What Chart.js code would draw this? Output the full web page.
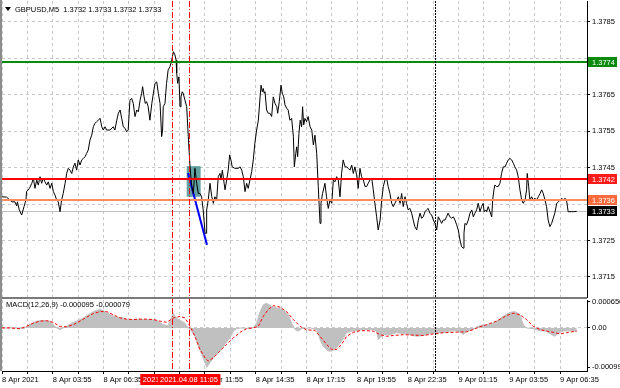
<!DOCTYPE html>
<html>
<head>
<meta charset="utf-8">
<script src="https://cdn.jsdelivr.net/npm/chart.js@4.4.1/dist/chart.umd.min.js"></script>
<style>
  html, body { margin: 0; padding: 0; background: #fff; }
  #wrap { position: relative; width: 620px; height: 388px; overflow: hidden; }
  #mainChart { position: absolute; left: 0; top: 0; }
  #macdChart { position: absolute; left: 0; top: 297px; }
</style>
</head>
<body>
<div id="wrap">
  <canvas id="mainChart" width="620" height="298"></canvas>
  <canvas id="macdChart" width="620" height="91"></canvas>
</div>
<script>
// GBPUSD M5, bar index 0 = 8 Apr 01:15
const chartTitle = "GBPUSD,M5  1.3732 1.3733 1.3732 1.3733";
const macdTitle = "MACD(12,26,9) -0.000095 -0.000079";

const timeLabels = ['8 Apr 2021', '8 Apr 03:55', '8 Apr 06:35', '8 Apr 09:15', '8 Apr 11:55', '8 Apr 14:35',
    '8 Apr 17:15', '8 Apr 19:55', '8 Apr 22:35', '9 Apr 01:15', '9 Apr 03:55', '9 Apr 06:35'];
const barsPerLabel = 32;
const barsPerGrid = 16;
const lastBar = 369;

const priceTicks = [1.3715, 1.3725, 1.3735, 1.3745, 1.3755, 1.3765, 1.3775, 1.3785];
// labels under the price boxes are not shown
const priceTickLabels = ['1.3715', '1.3725', '', '1.3745', '1.3755', '1.3765', '', '1.3785'];
const priceMin = 1.37095;
const priceMax = 1.37907;

// [bar, close]
const priceLine = [
    [0,1.37370],[2.9,1.37369],[6.2,1.37356],[8.2,1.37356],[9.3,1.37345],[9.7,1.37356],[10.9,1.37334],[12.4,1.37320],
    [13.9,1.37343],[15.1,1.37361],[15.5,1.37384],[17.3,1.37393],[18.8,1.37407],[19.8,1.37421],[20.8,1.37393],[21.9,1.37416],
    [22.9,1.37402],[24.0,1.37425],[25.0,1.37407],[26.0,1.37421],[27.1,1.37411],[28.2,1.37402],[29.2,1.37411],[30.3,1.37393],
    [31.4,1.37407],[32.4,1.37384],[33.4,1.37375],[34.5,1.37361],[35.5,1.37356],[36.6,1.37329],[37.6,1.37361],[38.6,1.37379],
    [39.8,1.37407],[40.8,1.37434],[41.8,1.37448],[42.9,1.37443],[44.0,1.37434],[45.0,1.37452],[46.0,1.37462],[47.1,1.37443],
    [48.1,1.37471],[49.2,1.37457],[50.3,1.37471],[51.3,1.37475],[52.4,1.37480],[53.4,1.37489],[54.4,1.37498],[55.5,1.37526],
    [56.6,1.37539],[57.6,1.37562],[58.6,1.37571],[59.7,1.37576],[60.7,1.37580],[61.9,1.37585],[62.9,1.37562],[63.9,1.37553],
    [65.0,1.37562],[66.0,1.37553],[68.1,1.37553],[70.2,1.37562],[71.2,1.37553],[72.4,1.37580],[73.4,1.37599],[74.5,1.37608],
    [75.5,1.37585],[76.5,1.37562],[77.6,1.37558],[78.6,1.37548],[79.6,1.37553],[80.7,1.37635],[81.8,1.37640],[82.8,1.37626],
    [83.9,1.37590],[85.0,1.37608],[86.0,1.37603],[87.1,1.37635],[88.1,1.37654],[88.7,1.37672],[89.6,1.37644],[90.4,1.37626],
    [91.2,1.37631],[92.2,1.37617],[93.3,1.37580],[94.5,1.37626],[95.5,1.37654],[96.5,1.37681],[97.6,1.37685],[98.6,1.37654],
    [99.7,1.37626],[100.7,1.37535],[101.3,1.37553],[101.7,1.37617],[102.8,1.37626],[103.8,1.37681],[104.8,1.37718],[106.0,1.37727],
    [107.1,1.37745],[108.1,1.37768],[109.1,1.37759],[109.8,1.37745],[110.2,1.37709],[110.8,1.37681],[111.6,1.37699],[112.3,1.37617],
    [112.9,1.37644],[113.7,1.37658],[114.3,1.37654],[115.4,1.37635],[116.5,1.37617],[117.5,1.37535],[118.6,1.37452],[119.7,1.37398],
    [120.7,1.37379],[121.7,1.37448],[122.8,1.37407],[123.8,1.37379],[124.9,1.37379],[125.9,1.37370],[126.9,1.37334],[128.1,1.37270],
    [128.7,1.37270],[129.1,1.37334],[130.1,1.37361],[131.2,1.37407],[132.3,1.37370],[132.9,1.37361],[133.3,1.37352],[134.3,1.37370],
    [135.4,1.37361],[136.4,1.37425],[137.5,1.37434],[138.1,1.37416],[139.0,1.37443],[140.1,1.37407],[140.7,1.37389],[141.7,1.37416],
    [142.7,1.37443],[143.6,1.37485],[144.4,1.37471],[145.2,1.37452],[146.9,1.37448],[149.0,1.37448],[150.2,1.37452],[151.2,1.37443],
    [152.2,1.37425],[153.3,1.37384],[154.3,1.37407],[155.3,1.37393],[156.4,1.37416],[157.5,1.37439],[158.5,1.37471],[159.5,1.37517],
    [160.6,1.37553],[161.7,1.37580],[162.8,1.37644],[163.4,1.37676],[164.2,1.37658],[164.8,1.37667],[165.4,1.37654],[165.9,1.37658],
    [166.9,1.37608],[167.9,1.37599],[169.0,1.37599],[170.1,1.37590],[171.1,1.37644],[172.2,1.37626],[173.3,1.37617],[173.9,1.37599],
    [174.9,1.37631],[176.0,1.37676],[176.8,1.37654],[177.7,1.37644],[178.5,1.37622],[179.5,1.37613],[180.5,1.37608],[181.6,1.37580],
    [182.7,1.37585],[183.8,1.37535],[184.4,1.37452],[185.3,1.37489],[185.9,1.37507],[186.5,1.37480],[187.3,1.37544],[188.1,1.37580],
    [189.0,1.37562],[189.6,1.37617],[190.3,1.37567],[191.1,1.37585],[192.1,1.37576],[193.1,1.37590],[194.3,1.37562],[195.4,1.37553],
    [196.4,1.37512],[197.4,1.37539],[198.5,1.37489],[199.5,1.37398],[200.6,1.37297],[201.2,1.37352],[202.2,1.37379],[203.7,1.37407],
    [204.7,1.37370],[205.8,1.37338],[206.9,1.37361],[208.0,1.37352],[209.0,1.37416],[210.0,1.37411],[211.1,1.37425],[212.1,1.37416],
    [213.2,1.37370],[214.2,1.37434],[215.2,1.37471],[216.4,1.37452],[217.4,1.37452],[218.4,1.37448],[219.5,1.37443],[220.6,1.37457],
    [221.6,1.37434],[222.6,1.37452],[223.7,1.37430],[224.7,1.37393],[225.8,1.37448],[226.8,1.37425],[227.9,1.37416],[229.0,1.37398],
    [230.0,1.37398],[231.0,1.37407],[232.1,1.37416],[233.2,1.37421],[234.2,1.37389],[235.2,1.37352],[236.3,1.37315],[237.3,1.37279],
    [238.5,1.37306],[239.5,1.37361],[240.5,1.37398],[241.6,1.37416],[242.6,1.37421],[243.6,1.37398],[244.7,1.37379],[245.8,1.37352],
    [246.8,1.37343],[247.8,1.37352],[248.9,1.37361],[250.0,1.37370],[251.1,1.37352],[252.1,1.37379],[253.1,1.37343],[254.2,1.37370],
    [255.2,1.37352],[256.2,1.37334],[257.3,1.37338],[258.4,1.37325],[259.4,1.37306],[260.4,1.37288],[261.6,1.37279],[262.6,1.37306],
    [263.7,1.37325],[264.7,1.37311],[265.7,1.37315],[266.8,1.37329],[267.8,1.37334],[268.8,1.37338],[269.9,1.37325],[271.0,1.37320],
    [272.1,1.37306],[273.1,1.37297],[274.2,1.37279],[275.2,1.37315],[276.3,1.37306],[277.3,1.37297],[278.3,1.37306],[279.4,1.37306],
    [280.4,1.37315],[281.4,1.37325],[282.5,1.37315],[283.7,1.37311],[284.7,1.37315],[285.7,1.37306],[286.8,1.37293],[287.8,1.37279],
    [288.9,1.37251],[289.9,1.37233],[290.9,1.37229],[291.4,1.37270],[292.0,1.37297],[293.0,1.37293],[294.1,1.37306],[295.2,1.37325],
    [296.3,1.37334],[297.3,1.37315],[298.3,1.37325],[299.4,1.37334],[300.4,1.37352],[301.5,1.37329],[302.5,1.37343],[303.5,1.37352],
    [304.1,1.37329],[305.1,1.37334],[305.7,1.37329],[306.7,1.37343],[307.8,1.37329],[308.9,1.37315],[309.5,1.37361],[310.3,1.37389],
    [310.9,1.37402],[312.0,1.37398],[313.0,1.37398],[314.1,1.37407],[315.1,1.37434],[316.2,1.37452],[317.3,1.37452],[318.3,1.37462],
    [319.3,1.37471],[320.4,1.37475],[321.5,1.37471],[322.5,1.37462],[323.5,1.37452],[324.6,1.37443],[325.6,1.37425],[326.7,1.37389],
    [327.8,1.37361],[328.8,1.37352],[329.9,1.37361],[330.9,1.37389],[331.3,1.37434],[332.2,1.37398],[333.0,1.37361],[334.1,1.37370],
    [335.1,1.37361],[336.1,1.37366],[337.2,1.37361],[338.3,1.37370],[339.4,1.37379],[340.4,1.37389],[341.4,1.37379],[342.5,1.37361],
    [343.5,1.37343],[344.5,1.37306],[345.6,1.37288],[346.7,1.37297],[347.7,1.37311],[348.7,1.37325],[349.9,1.37352],[350.9,1.37356],
    [352.0,1.37361],[353.0,1.37366],[354.0,1.37361],[355.1,1.37366],[356.1,1.37361],[357.1,1.37329],[359.3,1.37329],[360.3,1.37329],
    [362.5,1.37330]
];

// horizontal levels: take profit, entry, stop, bid
const levelPrices = [1.3774, 1.3742, 1.3736];
const levelLabels = ['1.3774', '1.3742', '1.3736'];
const bidPrice = 1.3733;
const bidLabel = '1.3733';

// signal bars (red) and day separator (black)
const markerBars = [107, 118];
const markerLabels = ['2021.04.08 10:10', '2021.04.08 11:05'];
const daySeparatorBar = 273;

// rectangle and trend line drawn on the chart
const zoneBars = [116.5, 125.3];
const zonePrices = [1.37454, 1.37370];
const trendBars = [117.3, 129.3];
const trendPrices = [1.37435, 1.37238];

// MACD histogram [bar, value]
const macdHist = [
    [0,0],[11.4,0],[13.4,-0.00002],[15.5,0.00002],[18.7,0.00012],[21.9,0.00017],[26.0,0.00019],[30.3,0.00017],
    [32.4,0.00008],[34.5,0],[36.6,-0.00004],[38.6,0],[40.8,0.00004],[43.9,0.00012],[47.1,0.00017],[51.3,0.00025],
    [54.4,0.00033],[57.6,0.00041],[61.9,0.00047],[65.0,0.00041],[68.1,0.00033],[72.4,0.00027],[76.5,0.00025],[80.7,0.00019],
    [85.0,0.00022],[89.1,0.00021],[93.3,0.00021],[97.6,0.00019],[101.7,0.00008],[104.8,0.00006],[106.4,0.00021],[108.1,0.00037],
    [109.1,0.00029],[111.2,0.00021],[113.3,0.00017],[115.4,0.00012],[117.5,0],[119.7,-0.00008],[121.7,-0.00021],[123.8,-0.00046],
    [125.9,-0.00066],[128.1,-0.00087],[129.1,-0.00099],[131.2,-0.00087],[134.3,-0.00070],[137.5,-0.00058],[140.7,-0.00041],[143.8,-0.00025],
    [145.9,-0.00008],[148.0,-0.00002],[150.2,0],[154.3,-0.00001],[158.5,0.00001],[160.6,0.00012],[162.8,0.00041],[164.8,0.00058],
    [166.9,0.00062],[170.1,0.00054],[173.3,0.00050],[177.4,0.00046],[180.5,0.00033],[182.7,0.00012],[184.8,-0.00004],[186.9,-0.00008],
    [189.0,-0.00002],[194.3,0],[198.5,-0.00004],[200.6,-0.00029],[202.6,-0.00046],[205.8,-0.00058],[208.0,-0.00058],[211.1,-0.00050],
    [214.2,-0.00033],[217.4,-0.00012],[220.6,-0.00008],[223.7,-0.00007],[227.9,-0.00004],[234.2,-0.00004],[236.3,-0.00008],[237.3,-0.00029],
    [239.5,-0.00021],[240.5,-0.00017],[244.7,-0.00017],[248.9,-0.00012],[253.1,-0.00014],[257.3,-0.00017],[261.6,-0.00021],[265.7,-0.00019],
    [269.9,-0.00014],[274.2,-0.00012],[278.3,-0.00012],[282.5,-0.00008],[286.8,-0.00007],[289.9,-0.00012],[290.9,-0.00017],[293.0,-0.00008],
    [297.3,-0.00004],[299.4,0.00003],[303.5,0.00008],[307.8,0.00008],[312.0,0.00017],[316.2,0.00029],[320.4,0.00039],[323.5,0.00041],
    [326.7,0.00033],[328.8,0.00008],[330.9,0],[335.1,-0.00002],[339.4,-0.00007],[343.5,-0.00008],[346.7,-0.00017],[348.7,-0.00021],
    [350.9,-0.00012],[354.0,-0.00008],[358.2,-0.00007],[362.5,-0.000095]
];

// MACD signal line [bar, value]
const macdSignal = [
    [0,0],[5.0,0],[11.4,-0.00002],[15.5,0.00004],[19.8,0.00012],[24.0,0.00017],[28.2,0.00018],[32.4,0.00014],
    [36.6,0.00003],[40.8,0.00003],[45.0,0.00008],[49.2,0.00017],[53.4,0.00027],[57.6,0.00036],[61.9,0.00041],[66.0,0.00041],
    [70.2,0.00033],[74.5,0.00025],[78.6,0.00022],[82.8,0.00021],[87.1,0.00022],[91.2,0.00022],[95.5,0.00021],[99.7,0.00017],
    [103.8,0.00014],[108.1,0.00025],[112.3,0.00029],[115.4,0.00025],[117.5,0.00012],[120.7,-0.00012],[124.9,-0.00054],[128.1,-0.00075],
    [130.1,-0.00083],[133.3,-0.00075],[137.5,-0.00058],[141.7,-0.00041],[145.9,-0.00025],[150.2,-0.00011],[154.3,-0.00002],[158.5,0],
    [161.7,0.00004],[164.8,0.00029],[167.9,0.00046],[171.1,0.00056],[175.4,0.00052],[179.5,0.00041],[183.8,0.00021],[188.0,0.00004],
    [192.1,-0.00005],[197.4,-0.00006],[200.6,-0.00021],[204.7,-0.00041],[208.0,-0.00054],[211.1,-0.00054],[214.2,-0.00041],[217.4,-0.00021],
    [221.6,-0.00011],[225.8,-0.00007],[230.0,-0.00007],[234.2,-0.00008],[238.5,-0.00017],[242.6,-0.00021],[246.8,-0.00019],[253.1,-0.00017],
    [259.4,-0.00018],[265.7,-0.00019],[272.1,-0.00015],[278.3,-0.00012],[284.7,-0.00011],[288.9,-0.00010],[293.0,-0.00010],[297.3,-0.00004],
    [301.5,0.00003],[305.7,0.00008],[312.0,0.00017],[318.3,0.00031],[322.5,0.00037],[326.7,0.00033],[330.9,0.00021],[335.1,0.00004],
    [339.4,-0.00004],[343.5,-0.00008],[347.7,-0.00011],[352.0,-0.00015],[356.1,-0.00012],[362.5,-0.000079]
];

const macdTicks = [0.000656, 0, -0.00099];
const macdTickLabels = ['0.000656', '0.00', '-0.00099'];
const macdMin = -0.00108;
const macdMax = 0.0007;

// --- styles ---
const fontFamily = '"Liberation Sans", Arial, sans-serif';
const fontSize = 7.5;
const smallFont = fontSize + 'px ' + fontFamily;
const gridColor = '#c8c8c8';
const gridDash = [3, 3];
const levelColors = ['#0a8a0a', '#ff0000', '#ff8a5c'];
const levelBoxColors = ['#0a8a0a', '#ff1a1a', '#ff6a3c'];
const markerDash = [6, 2, 1, 2];

const gridBars = [];
for (let b = 0; b <= (timeLabels.length - 1) * barsPerLabel; b += barsPerGrid) gridBars.push(b);

const toPoints = arr => arr.map(p => ({ x: p[0], y: p[1] }));

// no label overflow padding, so the plot fills the panel
const noPadding = s => { s.paddingTop = 0; s.paddingBottom = 0; s.paddingLeft = 0; s.paddingRight = 0; };

function hLine(ctx, area, y, color, width) {
    ctx.save();
    ctx.strokeStyle = color;
    ctx.lineWidth = width;
    ctx.beginPath();
    ctx.moveTo(area.left, y);
    ctx.lineTo(area.right, y);
    ctx.stroke();
    ctx.restore();
}

function vLine(ctx, x, top, bottom, color, dash) {
    ctx.save();
    ctx.strokeStyle = color;
    ctx.lineWidth = 1;
    ctx.setLineDash(dash);
    ctx.beginPath();
    ctx.moveTo(x, top);
    ctx.lineTo(x, bottom);
    ctx.stroke();
    ctx.restore();
}

function priceBox(ctx, area, y, bg, text) {
    ctx.save();
    ctx.fillStyle = bg;
    ctx.fillRect(area.right + 1, Math.round(y) - 5, 29, 10);
    ctx.fillStyle = '#fff';
    ctx.font = smallFont;
    ctx.textAlign = 'left';
    ctx.textBaseline = 'middle';
    ctx.fillText(text, area.right + 5, Math.round(y) + 0.5);
    ctx.restore();
}

const mainDecor = {
    id: 'mainDecor',
    beforeDatasetsDraw(chart) {
        const { ctx, chartArea: a, scales: { x, y } } = chart;
        // rectangle behind the price
        const x1 = x.getPixelForValue(zoneBars[0]), x2 = x.getPixelForValue(zoneBars[1]);
        const y1 = y.getPixelForValue(zonePrices[0]), y2 = y.getPixelForValue(zonePrices[1]);
        ctx.save();
        ctx.fillStyle = 'rgba(40,125,125,0.72)';
        ctx.fillRect(x1, y1, x2 - x1, y2 - y1);
        ctx.restore();
        hLine(ctx, a, Math.round(y.getPixelForValue(bidPrice)) + 0.5, '#c0c0c0', 1);
    },
    afterDatasetsDraw(chart) {
        const { ctx, chartArea: a, scales: { x, y } } = chart;
        levelPrices.forEach((p, i) => hLine(ctx, a, Math.round(y.getPixelForValue(p)), levelColors[i], 2));
        markerBars.forEach(b => vLine(ctx, Math.round(x.getPixelForValue(b)) + 0.5, a.top, chart.height, '#ff0000', markerDash));
        vLine(ctx, Math.round(x.getPixelForValue(daySeparatorBar)) + 0.5, a.top, chart.height, '#000', [2, 1]);
    },
    afterDraw(chart) {
        const { ctx, chartArea: a, scales: { y } } = chart;
        levelPrices.forEach((p, i) => priceBox(ctx, a, y.getPixelForValue(p), levelBoxColors[i], levelLabels[i]));
        priceBox(ctx, a, y.getPixelForValue(bidPrice), '#000', bidLabel);

        ctx.save();
        // left frame
        ctx.fillStyle = '#8c8c8c';
        ctx.fillRect(0, 0, 2, chart.height);
        // title
        ctx.fillStyle = '#000';
        ctx.beginPath();
        ctx.moveTo(5, 7); ctx.lineTo(11, 7); ctx.lineTo(8, 11); ctx.closePath();
        ctx.fill();
        ctx.font = smallFont;
        ctx.textBaseline = 'middle';
        ctx.fillText(chartTitle, 15, 9.5);
        ctx.restore();
    }
};

const macdDecor = {
    id: 'macdDecor',
    afterDatasetsDraw(chart) {
        const { ctx, chartArea: a, scales: { x } } = chart;
        markerBars.forEach(b => vLine(ctx, Math.round(x.getPixelForValue(b)) + 0.5, 0, a.bottom, '#ff0000', markerDash));
        vLine(ctx, Math.round(x.getPixelForValue(daySeparatorBar)) + 0.5, 0, a.bottom, '#000', [2, 1]);
    },
    afterDraw(chart) {
        const { ctx, chartArea: a, scales: { x } } = chart;
        ctx.save();
        // panel separator and left frame
        ctx.fillStyle = '#7a7a7a';
        ctx.fillRect(0, 0, a.right, 2);
        ctx.fillStyle = '#8c8c8c';
        ctx.fillRect(0, 0, 2, a.bottom);

        ctx.font = smallFont;
        ctx.textBaseline = 'middle';
        ctx.fillStyle = '#000';
        ctx.fillText(macdTitle, 6, 8);

        // time labels of the vertical lines
        ctx.textAlign = 'center';
        markerBars.forEach((b, i) => {
            const cx = Math.round(x.getPixelForValue(b));
            const w = ctx.measureText(markerLabels[i]).width + 5;
            ctx.fillStyle = '#ff0000';
            ctx.fillRect(cx - w / 2, a.bottom + 3, w, 11);
            ctx.fillStyle = '#fff';
            ctx.fillText(markerLabels[i], cx, a.bottom + 9);
        });
        ctx.restore();
    }
};

const xGrid = {
    type: 'linear',
    min: 0,
    max: lastBar,
    afterBuildTicks: s => { s.ticks = gridBars.map(v => ({ value: v })); },
    grid: { color: gridColor, tickColor: '#000', tickLength: 3 },
    border: { color: '#000', dash: gridDash }
};

new Chart(document.getElementById('mainChart'), {
    type: 'line',
    data: {
        datasets: [
            {
                data: toPoints(priceLine),
                borderColor: '#000',
                borderWidth: 1,
                pointRadius: 0,
                tension: 0
            },
            {
                data: trendBars.map((b, i) => ({ x: b, y: trendPrices[i] })),
                borderColor: '#0000ff',
                borderWidth: 2,
                pointRadius: 0
            }
        ]
    },
    options: {
        responsive: false,
        animation: false,
        events: [],
        layout: { padding: { left: 2, top: 1, right: 0, bottom: 1 } },
        plugins: { legend: { display: false }, tooltip: { enabled: false } },
        scales: {
            x: Object.assign({}, xGrid, {
                ticks: { display: false },
                grid: { color: gridColor, drawTicks: false },
                border: { display: false, dash: gridDash },
                afterFit: s => { s.height = 0; noPadding(s); }
            }),
            y: {
                position: 'right',
                min: priceMin,
                max: priceMax,
                afterBuildTicks: s => { s.ticks = priceTicks.map(v => ({ value: v })); },
                afterFit: s => { s.width = 33; noPadding(s); },
                ticks: {
                    color: '#000',
                    padding: 2,
                    font: { family: fontFamily, size: fontSize },
                    callback: v => priceTickLabels[priceTicks.indexOf(v)]
                },
                grid: { color: gridColor, tickColor: '#000', tickLength: 3 },
                border: { color: '#000', dash: gridDash }
            }
        }
    },
    plugins: [mainDecor]
});

new Chart(document.getElementById('macdChart'), {
    type: 'line',
    data: {
        datasets: [
            {
                data: toPoints(macdSignal),
                borderColor: '#ff0000',
                borderWidth: 1,
                borderDash: [3, 2],
                pointRadius: 0,
                fill: false
            },
            {
                data: toPoints(macdHist),
                borderColor: '#c0c0c0',
                borderWidth: 1,
                backgroundColor: '#c0c0c0',
                pointRadius: 0,
                fill: 'origin'
            }
        ]
    },
    options: {
        responsive: false,
        animation: false,
        events: [],
        layout: { padding: { left: 2, top: 3, right: 0, bottom: 0 } },
        plugins: { legend: { display: false }, tooltip: { enabled: false } },
        scales: {
            x: Object.assign({}, xGrid, {
                ticks: {
                    autoSkip: false,
                    maxRotation: 0,
                    align: 'start',
                    padding: 1,
                    color: '#000',
                    font: { family: fontFamily, size: fontSize },
                    callback: v => (v % barsPerLabel === 0 ? timeLabels[v / barsPerLabel] : '')
                },
                afterFit: s => { s.height = 17; noPadding(s); }
            }),
            y: {
                position: 'right',
                min: macdMin,
                max: macdMax,
                afterBuildTicks: s => { s.ticks = macdTicks.map(v => ({ value: v })); },
                afterFit: s => { s.width = 33; noPadding(s); },
                ticks: {
                    color: '#000',
                    padding: 2,
                    font: { family: fontFamily, size: fontSize },
                    callback: v => macdTickLabels[macdTicks.indexOf(v)]
                },
                grid: {
                    color: c => (c.tick && c.tick.value === 0 ? gridColor : 'rgba(0,0,0,0)'),
                    tickColor: '#000',
                    tickLength: 3
                },
                border: { color: '#000', dash: gridDash }
            }
        }
    },
    plugins: [macdDecor]
});
</script>
</body>
</html>
